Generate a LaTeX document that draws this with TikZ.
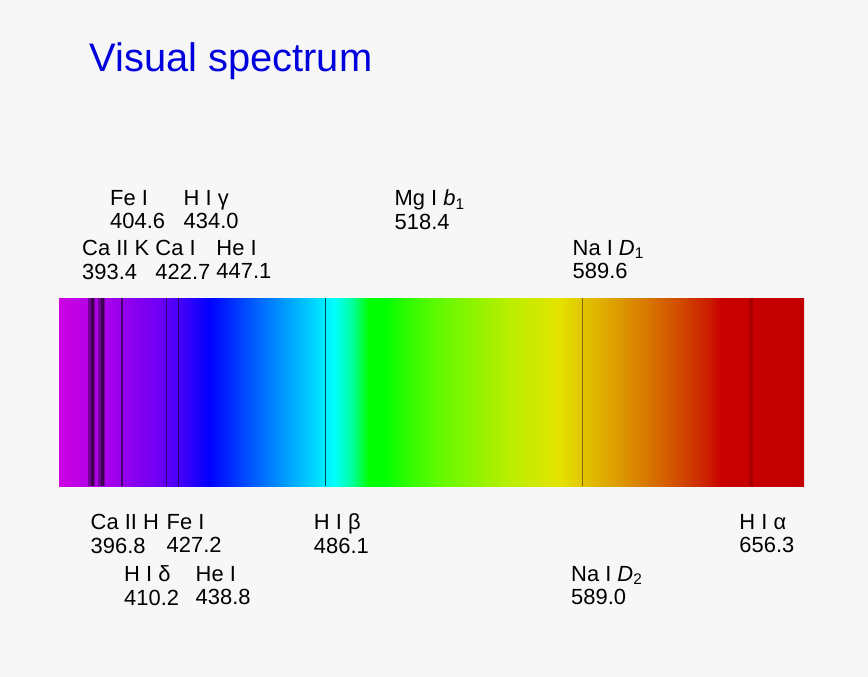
\documentclass[tikz,border=0pt]{standalone}
\usepackage{fontspec}
\setmainfont{Liberation Sans}
\definecolor{bgc}{RGB}{247,247,247}
\definecolor{titleblue}{RGB}{0,0,220}
\definecolor{s380}{RGB}{205,0,225}
\definecolor{s400}{RGB}{165,0,235}
\definecolor{s420}{RGB}{110,0,245}
\definecolor{s430}{RGB}{60,0,250}
\definecolor{s440}{RGB}{0,0,255}
\definecolor{s465}{RGB}{0,128,255}
\definecolor{s490}{RGB}{0,255,255}
\definecolor{s497}{RGB}{0,255,160}
\definecolor{s504}{RGB}{0,255,0}
\definecolor{s510}{RGB}{0,255,0}
\definecolor{s520}{RGB}{50,252,0}
\definecolor{s530}{RGB}{90,250,0}
\definecolor{s545}{RGB}{140,245,0}
\definecolor{s560}{RGB}{185,238,0}
\definecolor{s580}{RGB}{228,228,0}
\definecolor{s590}{RGB}{226,195,0}
\definecolor{s600}{RGB}{222,165,0}
\definecolor{s615}{RGB}{216,120,0}
\definecolor{s630}{RGB}{208,68,0}
\definecolor{s640}{RGB}{203,28,0}
\definecolor{s645}{RGB}{200,0,0}
\definecolor{s678}{RGB}{195,0,0}
\pgfdeclarehorizontalshading{spectrum}{100bp}{%
color(0bp)=(s380); color(25bp)=(s380); color(28.356bp)=(s400);
color(31.711bp)=(s420); color(33.389bp)=(s430); color(35.067bp)=(s440);
color(39.262bp)=(s465); color(43.456bp)=(s490); color(44.631bp)=(s497);
color(45.805bp)=(s504); color(46.812bp)=(s510); color(48.490bp)=(s520);
color(50.168bp)=(s530); color(52.685bp)=(s545); color(55.201bp)=(s560);
color(58.557bp)=(s580); color(60.235bp)=(s590); color(61.913bp)=(s600);
color(64.430bp)=(s615); color(66.946bp)=(s630); color(68.624bp)=(s640);
color(69.463bp)=(s645); color(75bp)=(s678); color(100bp)=(s678)}
\newcommand{\specx}[1]{59+(#1-380)*2.5-10.5}
\newcommand{\absline}[3]{\fill[black,opacity=#3] ({#1-#2/2},298) rectangle ({#1+#2/2},486);}
\begin{document}
\begin{tikzpicture}[x=1bp,y=-1bp,
  lab/.style={anchor=north west,inner sep=0pt,align=left,
    font=\fontsize{22}{24}\selectfont,text=black},
  titlestyle/.style={anchor=base west,inner sep=0pt,
    font=\fontsize{40}{48}\selectfont,text=titleblue}]
\useasboundingbox (0,0) rectangle (868,677);
\fill[bgc] (0,0) rectangle (868,677);
\node[titlestyle] (title) at (89.3,71.7) {Visual spectrum};
% spectrum bar
\path[shading=spectrum] (59,298) rectangle (804,486);
% absorption lines
\absline{91.8}{7}{0.35}
\absline{92.5}{3}{0.45}
\absline{101.6}{7}{0.35}
\absline{102}{3}{0.45}
\absline{121.7}{2}{0.55}
\absline{166.7}{1}{0.5}
\absline{178.8}{1.2}{0.55}
\absline{325.2}{1}{0.7}
\absline{582.3}{1.5}{0.45}
\absline{751}{4}{0.15}
% labels above
\node[lab] (feA) at ({\specx{404.6}},189.75) {Fe I\\404.6};
\node[lab] (hg) at ({\specx{434.0}},189.75) {H I γ\\434.0};
\node[lab] (mg) at ({\specx{518.4}},189.75) {Mg I \textit{b}\textsubscript{1}\\518.4};
\node[lab] (cak) at ({\specx{393.4}},239.75) {Ca II K\\393.4};
\node[lab] (cai) at ({\specx{422.7}},239.75) {Ca I\\422.7};
\node[lab] (heA) at ({\specx{447.1}},239.75) {He I\\447.1};
\node[lab] (nad1) at ({\specx{589.6}},239.75) {Na I \textit{D}\textsubscript{1}\\589.6};
% labels below
\node[lab] (cah) at ({\specx{396.8}},513.75) {Ca II H\\396.8};
\node[lab] (feB) at ({\specx{427.2}},513.75) {Fe I\\427.2};
\node[lab] (hb) at ({\specx{486.1}},513.75) {H I β\\486.1};
\node[lab] (ha) at ({\specx{656.3}},513.75) {H I α\\656.3};
\node[lab] (hd) at ({\specx{410.2}},565.75) {H I δ\\410.2};
\node[lab] (heB) at ({\specx{438.8}},565.75) {He I\\438.8};
\node[lab] (nad2) at ({\specx{589.0}},565.75) {Na I \textit{D}\textsubscript{2}\\589.0};
\end{tikzpicture}
\end{document}
